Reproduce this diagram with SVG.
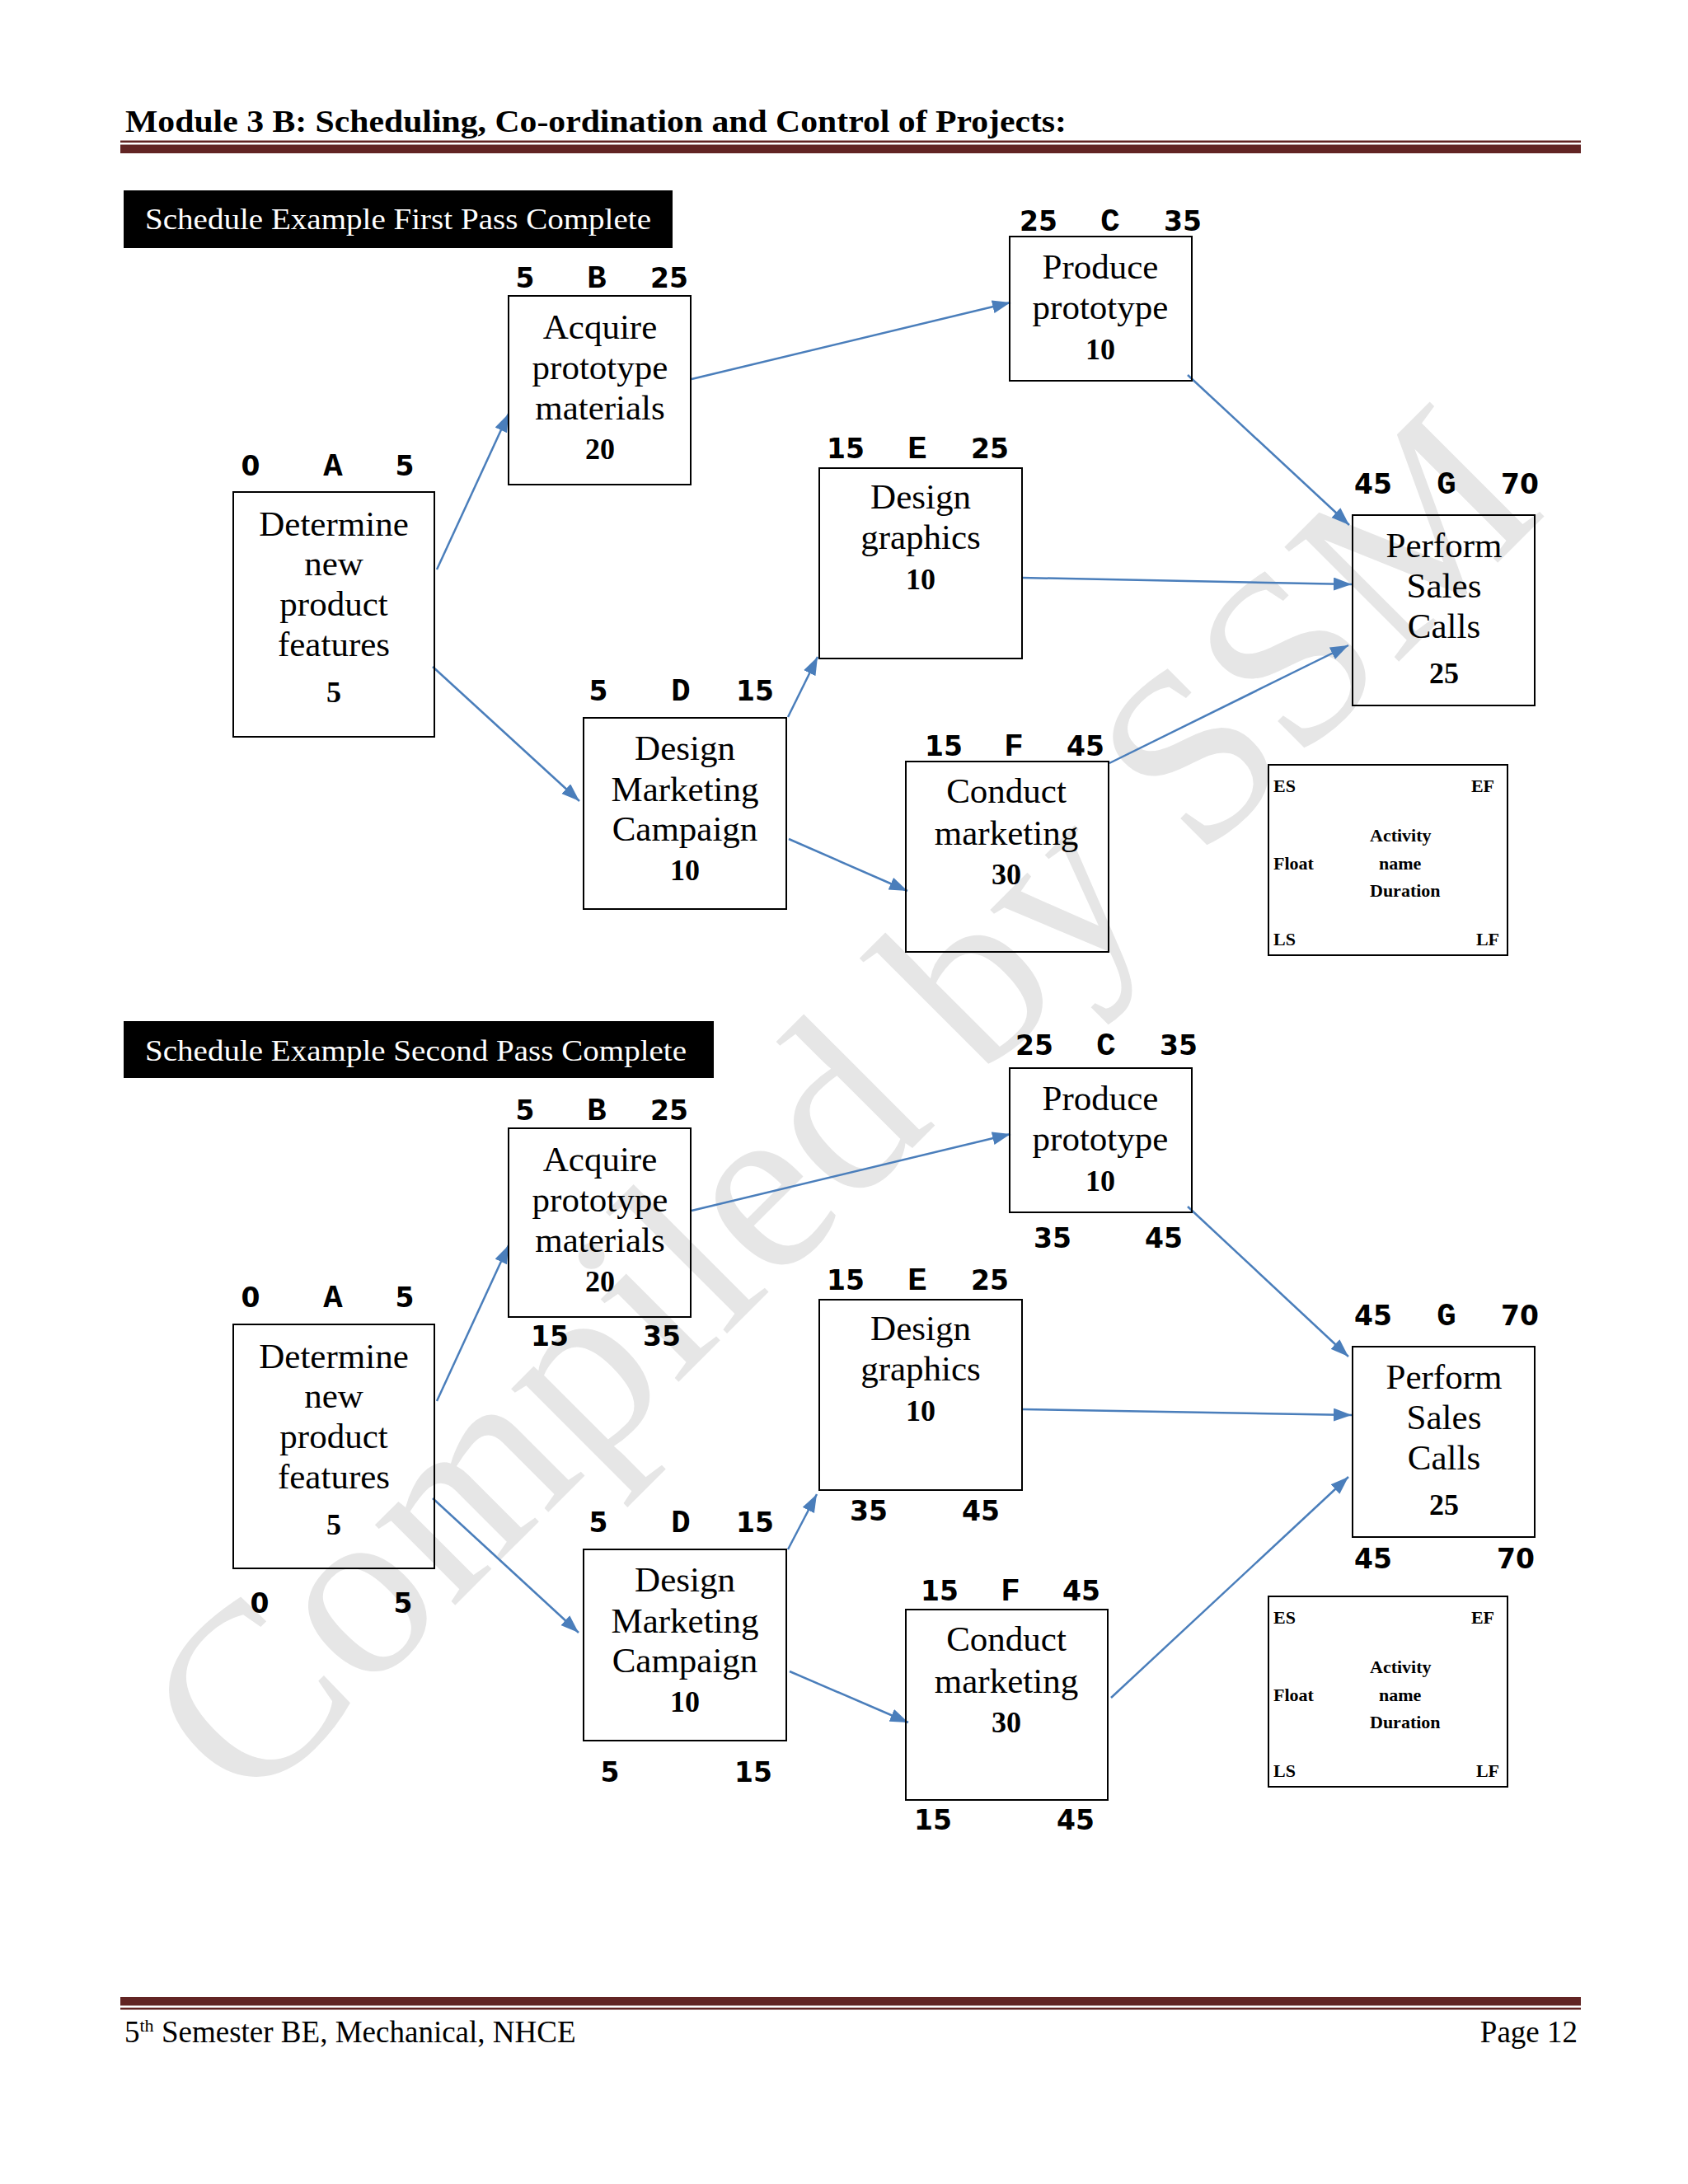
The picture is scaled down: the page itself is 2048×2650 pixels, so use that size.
<svg xmlns="http://www.w3.org/2000/svg" width="2048" height="2650" viewBox="0 0 2048 2650">
<style>
.box{fill:none;stroke:#000;stroke-width:2}
.nt{font-family:"Liberation Serif",serif;font-size:43px;text-anchor:middle;fill:#000}
.dur{font-family:"Liberation Serif",serif;font-weight:bold;font-size:36px;text-anchor:middle;fill:#000}
.num{font-family:"DejaVu Sans",sans-serif;font-weight:bold;font-size:33px;text-anchor:middle;fill:#000}
.let{font-family:"Liberation Mono",monospace;font-weight:bold;font-size:39px;text-anchor:middle;fill:#000}
.lg{font-family:"Liberation Serif",serif;font-weight:bold;font-size:22px;fill:#000}
.conn{stroke:#4a7ebb;stroke-width:2.5;fill:none;marker-end:url(#arr)}
.rule{fill:#622423}
.ban{fill:#000}
.bt{font-family:"Liberation Serif",serif;font-size:36px;fill:#fff}
.ft{font-family:"Liberation Serif",serif;font-size:37px;fill:#000}
</style>
<defs>
<marker id="arr" markerUnits="userSpaceOnUse" markerWidth="24" markerHeight="18" refX="22" refY="8" orient="auto">
<path d="M0,0 L22,8 L0,16 z" fill="#4a7ebb"/>
</marker>
</defs>
<rect x="0" y="0" width="2048" height="2650" fill="#fff"/>
<g id="watermark">
<text transform="translate(1090,1410) rotate(-45)" text-anchor="middle" font-family="Liberation Serif,serif" font-size="300" fill="#e6e6e6">Compiled by SSM</text>
</g>
<g id="header">
<text x="152" y="160" font-family="Liberation Serif,serif" font-weight="bold" font-size="38" textLength="1142" lengthAdjust="spacingAndGlyphs">Module 3 B: Scheduling, Co-ordination and Control of Projects:</text>
<rect class="rule" x="146" y="170.5" width="1772" height="2.5"/>
<rect class="rule" x="146" y="175.5" width="1772" height="10.5"/>
</g>
<g id="footer">
<rect class="rule" x="146" y="2423" width="1772" height="10.5"/>
<rect class="rule" x="146" y="2436" width="1772" height="2.5"/>
<text class="ft" x="151" y="2478">5<tspan font-size="22" dy="-13">th</tspan><tspan dy="13" textLength="512" lengthAdjust="spacingAndGlyphs"> Semester BE, Mechanical, NHCE</tspan></text>
<text class="ft" x="1914" y="2478" text-anchor="end">Page 12</text>
</g>
<g id="banner1">
<rect class="ban" x="150" y="231" width="666" height="70"/>
<text class="bt" x="176" y="278" textLength="614" lengthAdjust="spacingAndGlyphs">Schedule Example First Pass Complete</text>
</g>
<g id="banner2">
<rect class="ban" x="150" y="1239" width="716" height="69"/>
<text class="bt" x="176" y="1287" textLength="657" lengthAdjust="spacingAndGlyphs">Schedule Example Second Pass Complete</text>
</g>
<g id="connectors">
<path class="conn" d="M530,691 L617,502"/>
<path class="conn" d="M525,809 L703,972"/>
<path class="conn" d="M839,460 L1226,367"/>
<path class="conn" d="M1441,455 L1637,637"/>
<path class="conn" d="M1240,701 L1640,709"/>
<path class="conn" d="M956,870 L992,797"/>
<path class="conn" d="M957,1018 L1101,1081"/>
<path class="conn" d="M1346,926 L1636,783"/>
<path class="conn" d="M530,1700 L617,1511"/>
<path class="conn" d="M525,1818 L702,1981"/>
<path class="conn" d="M839,1469 L1226,1376"/>
<path class="conn" d="M1441,1464 L1636,1646"/>
<path class="conn" d="M1240,1710 L1640,1717"/>
<path class="conn" d="M956,1880 L991,1813"/>
<path class="conn" d="M958,2028 L1102,2090"/>
<path class="conn" d="M1348,2060 L1636,1792"/>
</g>
<!-- First pass -->
<g id="A1">
<rect class="box" x="283" y="597" width="244" height="297"/>
<text class="num" x="304" y="577">0</text><text class="let" x="404" y="577">A</text><text class="num" x="491" y="577">5</text>
<text class="nt" x="405" y="650">Determine</text><text class="nt" x="405" y="698">new</text><text class="nt" x="405" y="747">product</text><text class="nt" x="405" y="796">features</text>
<text class="dur" x="405" y="852">5</text>
</g>
<g id="B1">
<rect class="box" x="617" y="359" width="221" height="229"/>
<text class="num" x="637" y="349">5</text><text class="let" x="724" y="349">B</text><text class="num" x="812" y="349">25</text>
<text class="nt" x="728" y="411">Acquire</text><text class="nt" x="728" y="460">prototype</text><text class="nt" x="728" y="509">materials</text>
<text class="dur" x="728" y="557">20</text>
</g>
<g id="C1">
<rect class="box" x="1225" y="287" width="221" height="175"/>
<text class="num" x="1260" y="280">25</text><text class="let" x="1347" y="280">C</text><text class="num" x="1435" y="280">35</text>
<text class="nt" x="1335" y="338">Produce</text><text class="nt" x="1335" y="387">prototype</text>
<text class="dur" x="1335" y="436">10</text>
</g>
<g id="E1">
<rect class="box" x="994" y="568" width="246" height="231"/>
<text class="num" x="1026" y="556">15</text><text class="let" x="1113" y="556">E</text><text class="num" x="1201" y="556">25</text>
<text class="nt" x="1117" y="617">Design</text><text class="nt" x="1117" y="666">graphics</text>
<text class="dur" x="1117" y="715">10</text>
</g>
<g id="G1">
<rect class="box" x="1641" y="625" width="221" height="231"/>
<text class="num" x="1666" y="599">45</text><text class="let" x="1755" y="599">G</text><text class="num" x="1844" y="599">70</text>
<text class="nt" x="1752" y="676">Perform</text><text class="nt" x="1752" y="725">Sales</text><text class="nt" x="1752" y="774">Calls</text>
<text class="dur" x="1752" y="829">25</text>
</g>
<g id="D1">
<rect class="box" x="708" y="871" width="246" height="232"/>
<text class="num" x="726" y="850">5</text><text class="let" x="826" y="850">D</text><text class="num" x="916" y="850">15</text>
<text class="nt" x="831" y="922">Design</text><text class="nt" x="831" y="972">Marketing</text><text class="nt" x="831" y="1020">Campaign</text>
<text class="dur" x="831" y="1068">10</text>
</g>
<g id="F1">
<rect class="box" x="1099" y="924" width="246" height="231"/>
<text class="num" x="1145" y="917">15</text><text class="let" x="1230" y="917">F</text><text class="num" x="1317" y="917">45</text>
<text class="nt" x="1221" y="974">Conduct</text><text class="nt" x="1221" y="1025">marketing</text>
<text class="dur" x="1221" y="1073">30</text>
</g>
<g id="legend1">
<rect class="box" x="1539" y="928" width="290" height="231"/>
<text class="lg" x="1545" y="961">ES</text><text class="lg" x="1813" y="961" text-anchor="end">EF</text>
<text class="lg" x="1662" y="1021">Activity</text><text class="lg" x="1545" y="1055">Float</text><text class="lg" x="1673" y="1055">name</text>
<text class="lg" x="1662" y="1088">Duration</text>
<text class="lg" x="1545" y="1147">LS</text><text class="lg" x="1819" y="1147" text-anchor="end">LF</text>
</g>
<!-- Second pass -->
<g id="A2">
<rect class="box" x="283" y="1607" width="244" height="296"/>
<text class="num" x="304" y="1586">0</text><text class="let" x="404" y="1586">A</text><text class="num" x="491" y="1586">5</text>
<text class="nt" x="405" y="1660">Determine</text><text class="nt" x="405" y="1708">new</text><text class="nt" x="405" y="1757">product</text><text class="nt" x="405" y="1806">features</text>
<text class="dur" x="405" y="1862">5</text>
<text class="num" x="315" y="1957">0</text><text class="num" x="489" y="1957">5</text>
</g>
<g id="B2">
<rect class="box" x="617" y="1369" width="221" height="229"/>
<text class="num" x="637" y="1359">5</text><text class="let" x="724" y="1359">B</text><text class="num" x="812" y="1359">25</text>
<text class="nt" x="728" y="1421">Acquire</text><text class="nt" x="728" y="1470">prototype</text><text class="nt" x="728" y="1519">materials</text>
<text class="dur" x="728" y="1567">20</text>
<text class="num" x="667" y="1633">15</text><text class="num" x="803" y="1633">35</text>
</g>
<g id="C2">
<rect class="box" x="1225" y="1296" width="221" height="175"/>
<text class="num" x="1255" y="1280">25</text><text class="let" x="1342" y="1280">C</text><text class="num" x="1430" y="1280">35</text>
<text class="nt" x="1335" y="1347">Produce</text><text class="nt" x="1335" y="1396">prototype</text>
<text class="dur" x="1335" y="1445">10</text>
<text class="num" x="1277" y="1514">35</text><text class="num" x="1412" y="1514">45</text>
</g>
<g id="E2">
<rect class="box" x="994" y="1577" width="246" height="231"/>
<text class="num" x="1026" y="1565">15</text><text class="let" x="1113" y="1565">E</text><text class="num" x="1201" y="1565">25</text>
<text class="nt" x="1117" y="1626">Design</text><text class="nt" x="1117" y="1675">graphics</text>
<text class="dur" x="1117" y="1724">10</text>
<text class="num" x="1054" y="1845">35</text><text class="num" x="1190" y="1845">45</text>
</g>
<g id="G2">
<rect class="box" x="1641" y="1634" width="221" height="231"/>
<text class="num" x="1666" y="1608">45</text><text class="let" x="1755" y="1608">G</text><text class="num" x="1844" y="1608">70</text>
<text class="nt" x="1752" y="1685">Perform</text><text class="nt" x="1752" y="1734">Sales</text><text class="nt" x="1752" y="1783">Calls</text>
<text class="dur" x="1752" y="1838">25</text>
<text class="num" x="1666" y="1903">45</text><text class="num" x="1839" y="1903">70</text>
</g>
<g id="D2">
<rect class="box" x="708" y="1880" width="246" height="232"/>
<text class="num" x="726" y="1859">5</text><text class="let" x="826" y="1859">D</text><text class="num" x="916" y="1859">15</text>
<text class="nt" x="831" y="1931">Design</text><text class="nt" x="831" y="1981">Marketing</text><text class="nt" x="831" y="2029">Campaign</text>
<text class="dur" x="831" y="2077">10</text>
<text class="num" x="740" y="2162">5</text><text class="num" x="914" y="2162">15</text>
</g>
<g id="F2">
<rect class="box" x="1099" y="1953" width="245" height="231"/>
<text class="num" x="1140" y="1942">15</text><text class="let" x="1226" y="1942">F</text><text class="num" x="1312" y="1942">45</text>
<text class="nt" x="1221" y="2003">Conduct</text><text class="nt" x="1221" y="2054">marketing</text>
<text class="dur" x="1221" y="2102">30</text>
<text class="num" x="1132" y="2220">15</text><text class="num" x="1305" y="2220">45</text>
</g>
<g id="legend2">
<rect class="box" x="1539" y="1937" width="290" height="231"/>
<text class="lg" x="1545" y="1970">ES</text><text class="lg" x="1813" y="1970" text-anchor="end">EF</text>
<text class="lg" x="1662" y="2030">Activity</text><text class="lg" x="1545" y="2064">Float</text><text class="lg" x="1673" y="2064">name</text>
<text class="lg" x="1662" y="2097">Duration</text>
<text class="lg" x="1545" y="2156">LS</text><text class="lg" x="1819" y="2156" text-anchor="end">LF</text>
</g>
</svg>
